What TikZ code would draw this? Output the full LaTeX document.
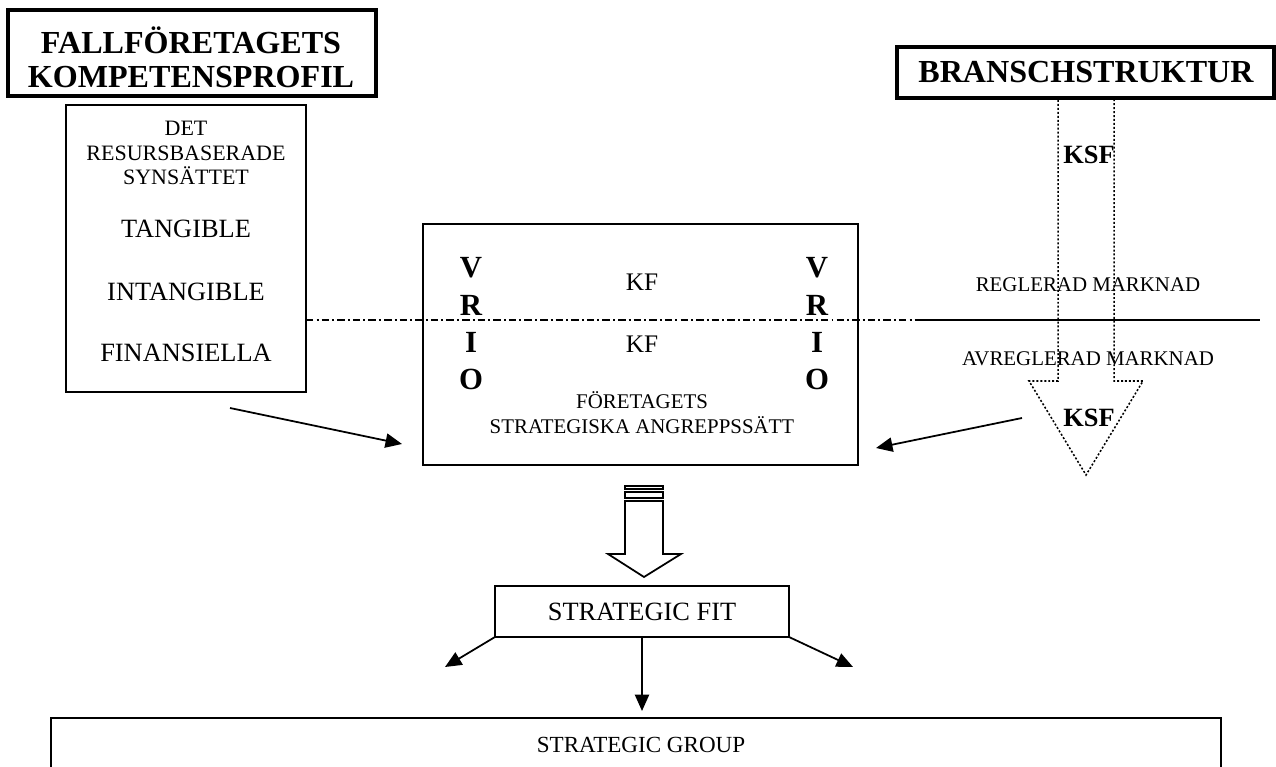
\documentclass[tikz,border=0pt]{standalone}
\usepackage{fontspec}
\setmainfont{Liberation Serif}
\usetikzlibrary{arrows.meta,fit}
\tikzset{
  box/.style={draw, line width=0.8pt, inner sep=0pt, outer sep=0pt},
  headbox/.style={draw, line width=2pt, inner sep=0pt, outer sep=0pt},
  txt/.style={inner sep=0pt, align=center},
  head/.style={txt, font=\bfseries\fontsize{14.6}{15.5}\selectfont},
  vrio/.style={txt, font=\bfseries\fontsize{14}{17}\selectfont},
  ksf/.style={txt, font=\bfseries\fontsize{12}{13}\selectfont},
  market/.style={txt, font=\fontsize{9.5}{11}\selectfont},
}
\begin{document}
\begin{tikzpicture}[x=0.455pt, y=-0.455pt, line join=miter, >={Triangle[length=7.5pt,width=6.5pt]}]
\useasboundingbox (0,0) rectangle (1276,767);
% rubriker
\node[headbox, fit={(8,10) (376,96)}] (profil) {};
\node[head] (profiltxt) at (191,57) {FALLFÖRETAGETS\\KOMPETENSPROFIL};
\node[headbox, fit={(897,47) (1274,98)}] (bransch) {};
\node[head] (branschtxt) at (1086,72) {BRANSCHSTRUKTUR};
% resurser
\node[box, fit={(66,105) (306,392)}] (resurs) {};
\node[txt, font=\fontsize{10}{11}\selectfont] (synsatt) at (186,153) {DET\\RESURSBASERADE\\SYNSÄTTET};
\node[txt, font=\fontsize{12}{13}\selectfont] (tang) at (186,229) {TANGIBLE};
\node[txt, font=\fontsize{12}{13}\selectfont] (intang) at (186,292) {INTANGIBLE};
\node[txt, font=\fontsize{12}{13}\selectfont] (finans) at (186,353) {FINANSIELLA};
% strategiska angreppssatt
\node[box, fit={(423,224) (858,465)}] (angrepp) {};
\node[vrio] (vriol) at (471,324) {V\\R\\I\\O};
\node[vrio] (vrior) at (817,324) {V\\R\\I\\O};
\node[txt, font=\fontsize{11.5}{13}\selectfont] (kfa) at (642,282) {KF};
\node[txt, font=\fontsize{11.5}{13}\selectfont] (kfb) at (642,344) {KF};
\node[txt, font=\fontsize{9.5}{11.4}\selectfont] (foretag) at (642,413) {FÖRETAGETS\\STRATEGISKA ANGREPPSSÄTT};
% marknad
\coordinate (dashend) at (915,320);
\coordinate (lineend) at (1260,320);
\draw[line width=0.6pt, dash pattern=on 3.4pt off 1.4pt on 0.9pt off 1.4pt] (resurs.east |- dashend) -- (dashend);
\draw[line width=0.6pt] (dashend) -- (lineend);
\node[market] (regl) at (1088,285) {REGLERAD MARKNAD};
\node[market] (avregl) at (1088,359) {AVREGLERAD MARKNAD};
% KSF-pil
\draw[line width=0.7pt, dash pattern=on 0.9pt off 0.9pt]
  (1058,100) -- (1058,381) -- (1029,381) -- (1086,475) -- (1143,381) -- (1114,381) -- (1114,100);
\node[ksf] (ksfa) at (1089,155) {KSF};
\node[ksf] (ksfb) at (1089,418) {KSF};
% pilar mot mitten
\coordinate (lstart) at (230,408);
\coordinate (lend) at (402,444);
\coordinate (rstart) at (1022,418);
\coordinate (rend) at (876,448);
\draw[->, line width=0.8pt] (lstart) -- (lend);
\draw[->, line width=0.8pt] (rstart) -- (rend);
% blockpil
\draw[line width=0.8pt] (625,501) -- (625,554) -- (608,554) -- (644,577) -- (681,554) -- (663,554) -- (663,501) -- cycle;
\draw[line width=0.8pt] (625,486) rectangle (663,489) (625,492) rectangle (663,498);
% strategic fit
\node[box, fit={(495,586) (789,637)}] (fit) {};
\node[txt, font=\fontsize{12}{13}\selectfont] (fittxt) at (fit.center) {STRATEGIC FIT};
\node[box, fit={(51,718) (1221,800)}] (group) {};
\node[txt, font=\fontsize{10.5}{12}\selectfont] (grouptxt) at (641,745) {STRATEGIC GROUP};
\coordinate (fitl) at (445,667);
\coordinate (fitr) at (853,667);
\coordinate (fitd) at (642,711);
\draw[->, line width=0.8pt] (fit.south west) -- (fitl);
\draw[->, line width=0.8pt] (fit.south east) -- (fitr);
\draw[->, line width=0.8pt] (fit.south) -- (fitd);
\end{tikzpicture}
\end{document}
